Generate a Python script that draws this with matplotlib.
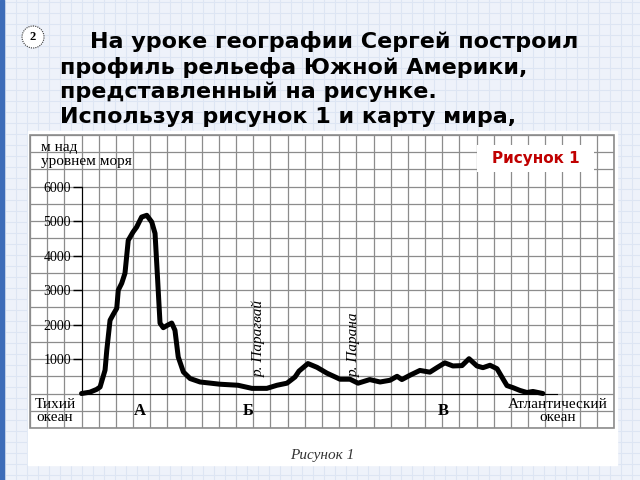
import matplotlib
matplotlib.use('Agg')
import matplotlib.pyplot as plt
from matplotlib.patches import Rectangle, Circle
from matplotlib.ticker import MultipleLocator
import numpy as np

# profile of South America, distance in grid cells, height in metres
distance = [0.00, 0.49, 0.88, 1.08, 1.37, 1.47, 1.66, 1.85, 2.05, 2.14, 2.34, 2.53, 2.72, 3.00,
            3.21, 3.50, 3.80, 4.09, 4.28, 4.41, 4.57, 4.76, 5.00, 5.25, 5.44, 5.63, 5.93, 6.32,
            6.90, 8.06, 9.11, 9.92, 10.79, 11.38, 11.96, 12.43, 12.66, 13.18, 13.71, 14.29, 15.05,
            15.63, 16.10, 16.78, 17.38, 17.96, 18.37, 18.65, 19.12, 19.70, 20.28, 20.69, 21.15,
            21.62, 22.15, 22.56, 23.02, 23.37, 23.78, 24.19, 24.53, 24.77, 25.12, 25.52, 25.93,
            26.28, 26.86]
elevation = [0, 40, 120, 190, 680, 1255, 2125, 2300, 2470, 3000, 3200, 3490, 4445, 4685,
             4830, 5120, 5170, 4975, 4645, 3490, 2040, 1910, 1980, 2045, 1835, 1060, 625, 435,
             335, 270, 240, 150, 150, 240, 300, 480, 650, 870, 760, 590, 415,
             415, 300, 405, 335, 385, 500, 405, 530, 670, 620, 750, 890,
             800, 810, 1010, 800, 750, 820, 720, 430, 230, 170, 90, 30,
             60, 0]
y_ticks = [1000, 2000, 3000, 4000, 5000, 6000]
y_labels = ['1000', '2000', '3000', '4000', '5000', '6000']
rivers = ['р. Парагвай', 'р. Парана']
river_x = [10.33, 15.86]
points = ['А', 'Б', 'В']
points_x = [3.4, 9.69, 21.04]
header = ['На уроке географии Сергей построил',
          'профиль рельефа Южной Америки,',
          'представленный на рисунке.',
          'Используя рисунок 1 и карту мира,']

serif = 'Liberation Serif'

fig = plt.figure(figsize=(6.4, 4.8), dpi=100)

# slide background (pixel coordinates)
bg = fig.add_axes([0, 0, 1, 1])
bg.set_xlim(0, 640)
bg.set_ylim(480, 0)
bg.axis('off')
bg.add_patch(Rectangle((0, 0), 640, 480, color='#eef2fa', zorder=0))
for v in np.arange(5, 641, 11):
    bg.axvline(v, color='#dde5f3', lw=0.8, zorder=1)
for h in np.arange(2, 481, 11):
    bg.axhline(h, color='#dde5f3', lw=0.8, zorder=1)
bg.add_patch(Rectangle((0, 0), 4, 480, color='#3d6cb8', zorder=2))
bg.add_patch(Rectangle((28, 131), 589, 334, color='white', zorder=2))

bg.add_patch(Circle((33, 37), 11, facecolor='white', edgecolor='#333333', lw=0.8,
                    ls=(0, (1, 1)), zorder=3))
bg.text(33, 37, '2', fontsize=9, fontweight='bold', family=serif, ha='center', va='center',
        zorder=4)
bg.text(90, 42, header[0], fontsize=16, fontweight='bold', va='center', zorder=4)
for i, line in enumerate(header[1:]):
    bg.text(60, 67 + 25 * i, line, fontsize=16, fontweight='bold', va='center', zorder=4)
bg.text(322, 455, 'Рисунок 1', fontsize=11, style='italic', family=serif,
        color='#333333', ha='center', va='center', zorder=4)

# chart on squared paper
ax = fig.add_axes([30 / 640, 52 / 480, 584 / 640, 293 / 480])
ax.set_xlim(-3, 31)
ax.set_ylim(-1000, 7500)
ax.set_xticks(np.arange(-3, 32))
ax.tick_params(axis='x', length=0, labelbottom=False)
ax.set_yticks(y_ticks, y_labels)
ax.yaxis.set_minor_locator(MultipleLocator(500))
ax.tick_params(axis='y', which='major', direction='out', length=6.5, width=1,
               labelsize=10, pad=1, labelfontfamily=serif)
ax.tick_params(axis='y', which='minor', length=0)
ax.grid(True, which='both', color='#8c8c8c', lw=0.9)
ax.set_axisbelow(True)
for s in ['top', 'right']:
    ax.spines[s].set_visible(False)
ax.spines['left'].set_position(('data', 0))
ax.spines['left'].set_bounds(0, 6000)
ax.spines['bottom'].set_position(('data', 0))
ax.spines['bottom'].set_bounds(0, 27.7)
ax.add_patch(Rectangle((0, 0), 1, 1, transform=ax.transAxes, fill=False,
                       ec='#8c8c8c', lw=1.2, clip_on=False))

ax.plot(distance, elevation, color='black', lw=3.6, solid_joinstyle='round',
        solid_capstyle='round', zorder=3)

ax.text(-2.36, 6930, 'м над\nуровнем моря', fontsize=11, family=serif, va='center',
        linespacing=1.05)
for name, x in zip(rivers, river_x):
    ax.text(x, 480, name, rotation=90, fontsize=11, family=serif, style='italic',
            ha='center', va='bottom')
for name, x in zip(points, points_x):
    ax.text(x, -510, name, fontsize=12, family=serif, fontweight='bold',
            ha='center', va='center')
ax.text(-1.54, -510, 'Тихий\nокеан', fontsize=11, family=serif, ha='center',
        va='center', linespacing=1.0)
ax.text(27.73, -510, 'Атлантический\nокеан', fontsize=11, family=serif, ha='center',
        va='center', linespacing=1.0)

ax.add_patch(Rectangle((23.02, 6414), 6.81, 783, fc='white', ec='none', zorder=4))
ax.text(26.46, 6820, 'Рисунок 1', fontsize=11, fontweight='bold', color='#c00000',
        ha='center', va='center', zorder=5)

fig.savefig('out.png', dpi=100)
